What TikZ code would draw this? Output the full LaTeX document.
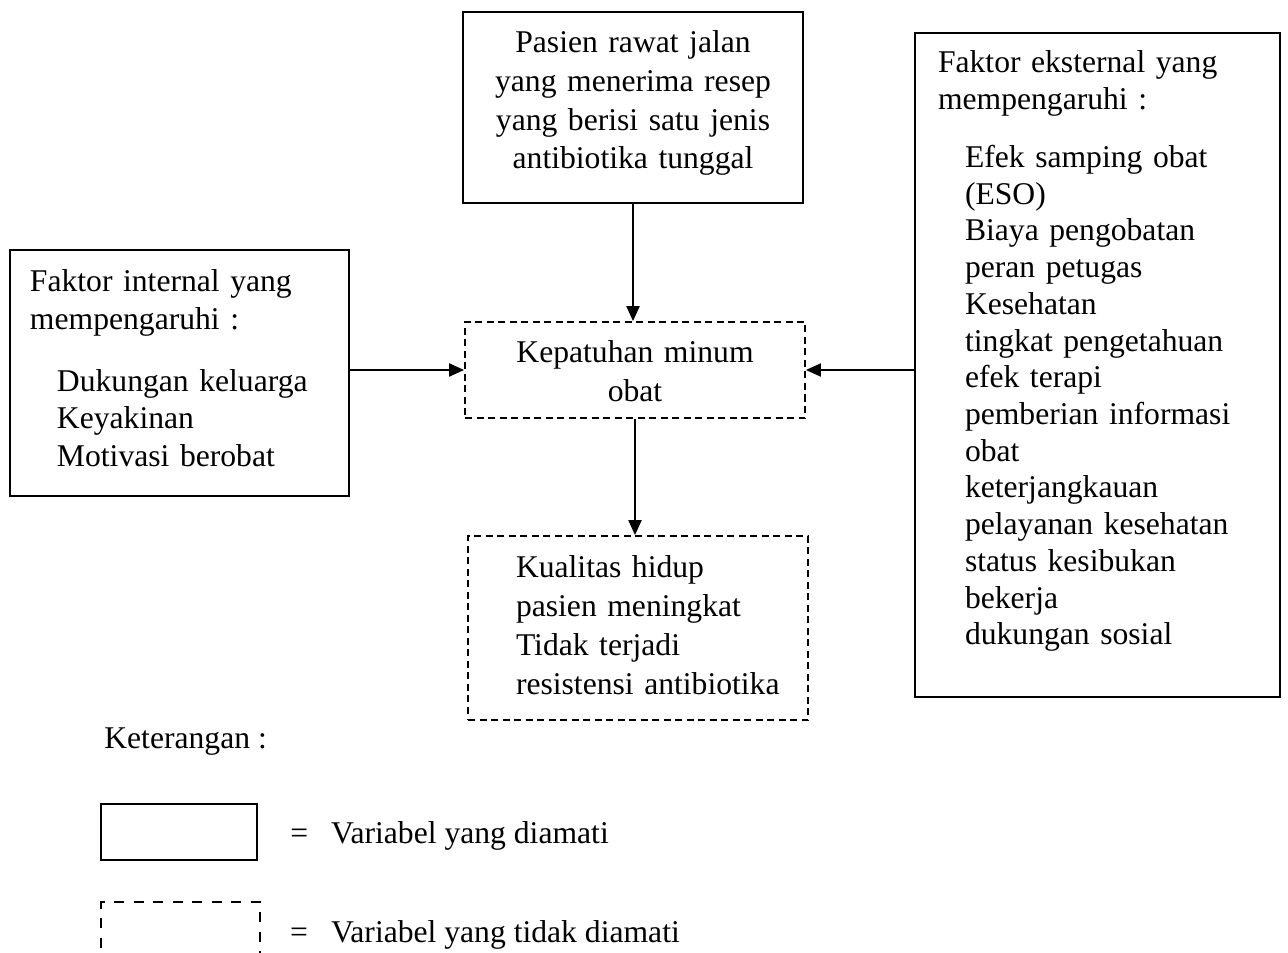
\documentclass[tikz,border=0pt]{standalone}
\usepackage{fontspec}
\setmainfont{Liberation Serif}
\usetikzlibrary{positioning}
\usetikzlibrary{arrows.meta}

\newcommand{\indt}{\hspace*{5.4mm}}

\begin{document}
\begin{tikzpicture}[x=0.2mm, y=-0.2mm,
    every node/.style={font=\fontsize{18pt}{21.9pt}\selectfont, inner sep=0pt},
    obsbox/.style={draw, line width=0.4mm},
    unobsbox/.style={draw, line width=0.35mm, dash pattern=on 1.4mm off 0.9mm},
    legdash/.style={draw, line width=0.35mm, dash pattern=on 2mm off 1.9mm},
    arr/.style={line width=0.4mm, -{Triangle[length=3mm,width=2.6mm]}}]
    \useasboundingbox (0,0) rectangle (1288,953);

    % variables
    \node[obsbox, align=center, text width=68mm, minimum width=68mm, text height=8.2mm, text depth=30mm,
          font=\fontsize{18pt}{22pt}\selectfont] (pasien) at (633,107.5)
          {Pasien rawat jalan\\yang menerima resep\\yang berisi satu jenis\\antibiotika tunggal};
    \node[unobsbox, align=center, text width=68mm, minimum width=68mm, text height=8.2mm, text depth=11mm,
          font=\fontsize{18pt}{22.1pt}\selectfont] (patuh) at (635,370)
          {Kepatuhan minum\\obat};
    \node[obsbox, align=left, text width=59.8mm, minimum width=67.8mm, text height=8.4mm, text depth=40.8mm,
          font=\fontsize{18pt}{21.4pt}\selectfont] (internal) at (179.5,373)
          {Faktor internal yang\\mempengaruhi :\\[4.8mm]\indt Dukungan keluarga\\\indt Keyakinan\\\indt Motivasi berobat};
    \node[obsbox, align=left, text width=63.8mm, minimum width=73mm, text height=8mm, text depth=124.8mm,
          font=\fontsize{18pt}{20.9pt}\selectfont] (ekst) at (1097.5,365)
          {Faktor eksternal yang\\mempengaruhi :\\[4.2mm]\indt Efek samping obat\\\indt (ESO)\\\indt Biaya pengobatan\\\indt peran petugas\\\indt Kesehatan\\\indt tingkat pengetahuan\\\indt efek terapi\\\indt pemberian informasi\\\indt obat\\\indt keterjangkauan\\\indt pelayanan kesehatan\\\indt status kesibukan\\\indt bekerja\\\indt dukungan sosial};
    \node[unobsbox, align=left, text width=60mm, minimum width=68mm, text height=8.2mm, text depth=28.6mm,
          font=\fontsize{18pt}{22.3pt}\selectfont] (kualitas) at (638,628)
          {\hspace*{5.6mm}Kualitas hidup\\\hspace*{5.6mm}pasien meningkat\\\hspace*{5.6mm}Tidak terjadi\\\hspace*{5.6mm}resistensi antibiotika};

    \draw[arr] (pasien.south) -- (pasien.south |- patuh.north);
    \draw[arr] (internal.east |- patuh.west) -- (patuh.west);
    \draw[arr] (ekst.west |- patuh.east) -- (patuh.east);
    \draw[arr] (patuh.south) -- (patuh.south |- kualitas.north);

    % legend
    \node[anchor=base west] (ket) at (104,748) {Keterangan :};
    \node[obsbox, minimum width=31.2mm, minimum height=11.2mm] (legobs) at (179,832) {};
    \node[right=6.4mm of legobs, yshift=-0.72mm] (legobstext) {=\hspace{4.6mm}Variabel yang diamati};
    \node[legdash, minimum width=31.8mm, minimum height=11.2mm] (legunobs) at (180.5,930) {};
    \node[right=5.8mm of legunobs, yshift=-0.92mm] (legunobstext) {=\hspace{4.6mm}Variabel yang tidak diamati};
\end{tikzpicture}
\end{document}
